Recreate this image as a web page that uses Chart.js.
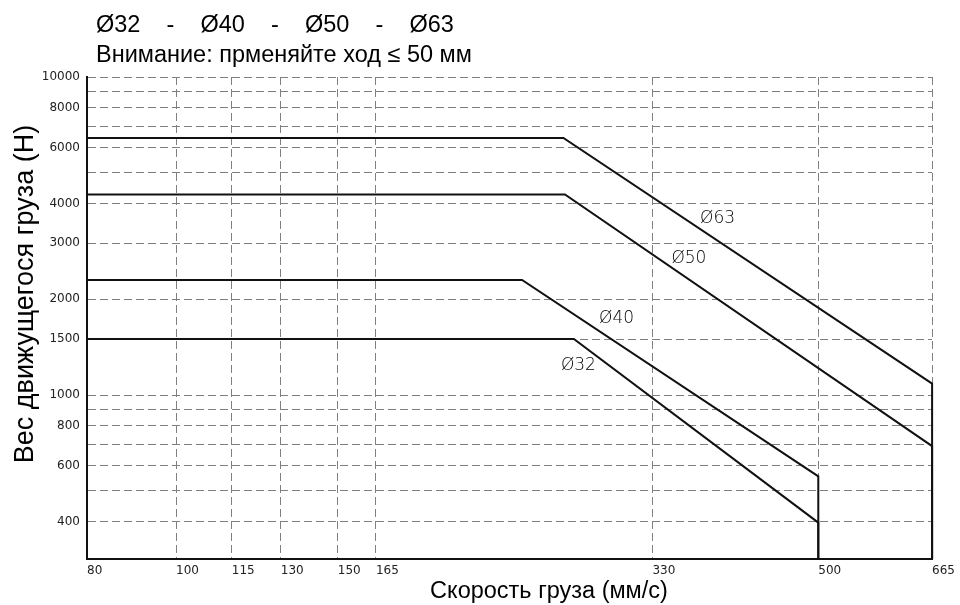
<!DOCTYPE html>
<html><head><meta charset="utf-8">
<script src="https://cdn.jsdelivr.net/npm/chart.js@4"></script>
<style>html,body{margin:0;padding:0;background:#fff;}#wrap{width:960px;height:605px;}</style>
</head><body><div id="wrap"><canvas id="c" width="960" height="605"></canvas></div>
<script>
// ---- data ----
const seriesNames = ['Ø32', 'Ø40', 'Ø50', 'Ø63'];
const xTickValues = [80, 100, 115, 130, 150, 165, 330, 500, 665];
const yGridValues = [400, 500, 600, 700, 800, 900, 1000, 1500, 2000, 3000, 4000, 5000, 6000, 7000, 8000, 9000, 10000];
const yTickLabels = [400, 600, 800, 1000, 1500, 2000, 3000, 4000, 6000, 8000, 10000];
const xMin = 80, xMax = 665, yMin = 305, yMax = 10000;

const d32x = [80, 271, 500, 500];
const d32y = [1500, 1500, 397, yMin];
const d40x = [80, 238, 500, 500];
const d40y = [2300, 2300, 555, yMin];
const d50x = [80, 265, 665, 665];
const d50y = [4270, 4270, 691, yMin];
const d63x = [80, 264, 665, 665];
const d63y = [6430, 6430, 1086, yMin];

const titleText = 'Ø32    -    Ø40    -    Ø50    -    Ø63';
const subtitleText = 'Внимание: прменяйте ход ≤ 50 мм';
const xTitle = 'Скорость груза (мм/с)';
const yTitle = 'Вес движущегося груза (Н)';

// ---- build ----
function pts(xs, ys) { return xs.map((x, i) => ({x: x, y: ys[i]})); }
const allX = [d32x, d40x, d50x, d63x];
const allY = [d32y, d40y, d50y, d63y];
// label placement (style): fraction along sloped segment, pixel offsets, baseline
const labelStyle = [
  {t: 0.0, dx: -13, dy: 18, base: 'top'},
  {t: 0.26, dx: 0, dy: -4, base: 'bottom'},
  {t: 0.29, dx: 0, dy: 0, base: 'bottom'},
  {t: 0.368, dx: 1, dy: -1, base: 'bottom'}
];

const datasets = seriesNames.map((n, i) => ({
  label: n,
  data: pts(allX[i], allY[i]),
  borderColor: '#111',
  borderWidth: 2,
  pointRadius: 0,
  fill: false,
  tension: 0,
  clip: false
}));

const decor = {
  id: 'decor',
  afterDatasetsDraw(chart) {
    const ctx = chart.ctx;
    const xs = chart.scales.x, ys = chart.scales.y;
    ctx.save();
    ctx.fillStyle = '#000';
    ctx.font = '200 17px "DejaVu Sans"';
    ctx.textAlign = 'left';
    seriesNames.forEach((n, i) => {
      const st = labelStyle[i];
      const x0 = allX[i][1], x1 = allX[i][2], y0 = allY[i][1], y1 = allY[i][2];
      const lx = Math.pow(10, Math.log10(x0) + st.t * (Math.log10(x1) - Math.log10(x0)));
      const ly = Math.pow(10, Math.log10(y0) + st.t * (Math.log10(y1) - Math.log10(y0)));
      ctx.textBaseline = st.base;
      ctx.fillText(n, xs.getPixelForValue(lx) + st.dx, ys.getPixelForValue(ly) + st.dy);
    });
    ctx.restore();
  },
  afterDraw(chart) {
    const ctx = chart.ctx;
    ctx.save();
    ctx.fillStyle = '#000';
    ctx.textBaseline = 'alphabetic';
    ctx.textAlign = 'left';
    ctx.font = '23.5px "Liberation Sans", Arial, sans-serif';
    ctx.fillText(titleText, 96, 32);
    ctx.font = '23.5px "Liberation Sans", Arial, sans-serif';
    ctx.fillText(subtitleText, 96, 62);
    ctx.textAlign = 'center';
    ctx.fillText(xTitle, 549, 598);
    ctx.font = '27px "Liberation Sans", Arial, sans-serif';
    ctx.translate(33, 294);
    ctx.rotate(-Math.PI / 2);
    ctx.textBaseline = 'alphabetic';
    ctx.fillText(yTitle, 0, 0);
    ctx.restore();
  }
};

new Chart(document.getElementById('c'), {
  type: 'line',
  data: {datasets: datasets},
  options: {
    responsive: false,
    animation: false,
    devicePixelRatio: 1,
    layout: {padding: {top: 77, right: 27, bottom: 0, left: 0}},
    plugins: {legend: {display: false}, tooltip: {enabled: false}, title: {display: false}},
    scales: {
      x: {
        type: 'logarithmic',
        min: xMin, max: xMax,
        afterBuildTicks: (ax) => { ax.ticks = xTickValues.map(v => ({value: v})); },
        afterFit: (ax) => { ax.height = 46; },
        ticks: {
          autoSkip: false, maxRotation: 0, minRotation: 0, align: 'start', padding: 5,
          color: '#222', font: {family: '"DejaVu Sans"', size: 12},
          callback: (v) => String(v)
        },
        grid: {color: '#808080', lineWidth: 1, drawTicks: false},
        border: {display: true, color: '#111', width: 2, dash: [8, 4]}
      },
      y: {
        type: 'logarithmic',
        min: yMin, max: yMax,
        afterBuildTicks: (ax) => { ax.ticks = yGridValues.map(v => ({value: v})); },
        afterFit: (ax) => { ax.width = 87; },
        ticks: {
          autoSkip: false, padding: 7,
          color: '#222', font: {family: '"DejaVu Sans"', size: 12},
          callback: (v) => (yTickLabels.includes(v) ? String(v) : '')
        },
        grid: {color: '#808080', lineWidth: 1, drawTicks: false},
        border: {display: true, color: '#111', width: 2, dash: [8, 4]}
      }
    }
  },
  plugins: [decor]
});
</script>
</body></html>
